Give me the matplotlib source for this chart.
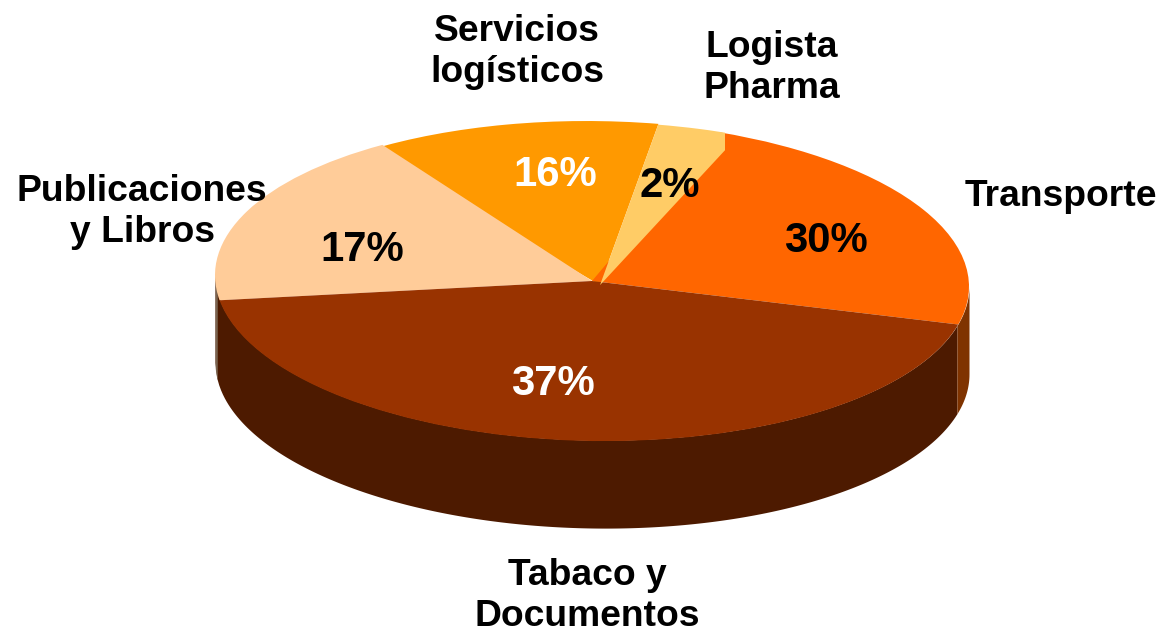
import numpy as np
import matplotlib
matplotlib.use("Agg")
import matplotlib.pyplot as plt
from matplotlib.transforms import Affine2D, Bbox, TransformedBbox

plt.rcParams['font.family'] = ['Liberation Sans', 'DejaVu Sans']

# Data
categories = ["Transporte", "Tabaco y\nDocumentos", "Publicaciones\ny Libros",
              "Servicios\nlogísticos", "Logista\nPharma"]
percent_labels = [30, 37, 17, 16, 2]
# Apparent share of the tilted ellipse each slice occupies in the picture
drawn_shares = [23.4, 43.7, 18.1, 11.8, 3.0]
slice_colors = ["#FF6600", "#993300", "#FFCC99", "#FF9900", "#FFCC66"]
pct_colors = ["black", "white", "black", "white", "black"]

W, H = 1164, 632
CX, CY, RX, RY = 592, 280, 377, 160
DEPTH = 88 / RY
SHEAR = 0.015 * RX / RY

fig = plt.figure(figsize=(W / 100, H / 100), dpi=100, facecolor="white")
ax = fig.add_axes([0, 0, 1, 1])

tilt = Affine2D.from_values(1, -SHEAR, 0, 1, 0, 0) + ax.transData

wedges, _ = ax.pie(drawn_shares, colors=slice_colors, startangle=70.5,
                   counterclock=False, center=(0, -1 / RY), radius=1,
                   wedgeprops={"transform": tilt, "linewidth": 0})
ax.set_aspect("auto")
ax.set_xlim(-CX / RX, (W - CX) / RX)
ax.set_ylim((CY - H) / RY, CY / RY)
ax.axis("off")

# Layer order and small offsets seen in the picture
for w, z in zip(wedges, [3, 4, 3.5, 2, 5]):
    w.set_zorder(z)
shift = (8 / RX, -5 / RY)
wedges[3].set_center(shift)
wedges[3].set_theta2(wedges[3].theta2 + 3)
wedges[3].set_radius(1.025)
wedges[4].set_center(shift)
wedges[4].set_theta1(wedges[4].theta1 - 1.7)
wedges[4].set_radius(1.02)
wedges[4].set_clip_on(True)
wedges[4].set_clip_box(TransformedBbox(Bbox([[0, 0], [725 / W, 1]]), fig.transFigure))

# Side wall of the disc
def wall(x0, x1, color):
    x = np.linspace(x0, x1, 400)
    low = -np.sqrt(np.clip(1 - x ** 2, 0, None))
    ax.fill_between(x, low, low - DEPTH, color=color, linewidth=0,
                    transform=tilt, zorder=1)

wall(-1, 0.968, "#4D1A00")
wall(0.968, 1, "#7F3300")
wall(-1, -0.994, "#7A6450")

def fx(px):
    return px / W

def fy(py):
    return 1 - py / H

# Category labels
label_pos = [(1061, 196), (587, 596), (142, 212), (517, 52), (772, 68)]
for name, (px, py) in zip(categories, label_pos):
    ax.text(fx(px), fy(py), name, transform=fig.transFigure, ha="center", va="center",
            fontsize=26.8, fontweight="bold", color="black", linespacing=1.23, zorder=10)

# Percent labels
pct_pos = [(826, 241), (553, 384), (362, 250), (555, 175), (670, 186)]
for val, c, (px, py) in zip(percent_labels, pct_colors, pct_pos):
    ax.text(fx(px), fy(py), f"{val}%", transform=fig.transFigure, ha="center", va="center",
            fontsize=30.2, fontweight="bold", color=c, zorder=10)

fig.savefig("out.png", dpi=100, facecolor="white")
